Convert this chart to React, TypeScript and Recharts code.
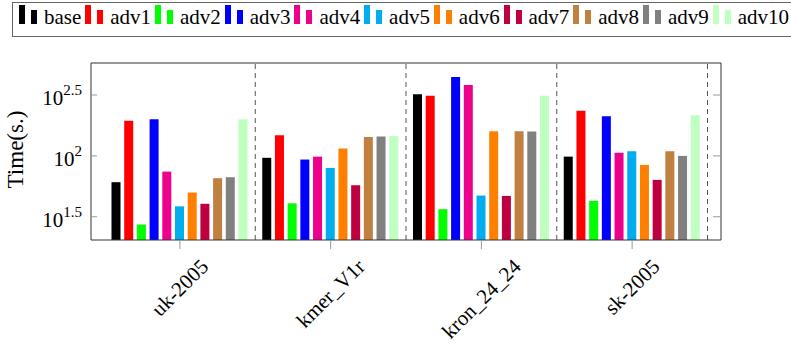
import React from "react";
import { BarChart, Bar, XAxis, YAxis, ReferenceLine } from "recharts";

const CATEGORIES = ["uk-2005", "kmer_V1r", "kron_24_24", "sk-2005"];
const SERIES = ["base", "adv1", "adv2", "adv3", "adv4", "adv5", "adv6", "adv7", "adv8", "adv9", "adv10"];
const COLORS = ["#000000", "#ff0000", "#00ff00", "#0000ff", "#ec008c", "#00adef", "#ff8000", "#bf0040", "#bf8040", "#808080", "#bfffbf"];

// Time(s.) per graph, one array per variant
const base = [60.8, 96.4, 320.6, 98.6];
const adv1 = [194.1, 147.9, 311.2, 234.4];
const adv2 = [27.3, 40.8, 36.5, 42.7];
const adv3 = [200, 93.3, 443.6, 211.8];
const adv4 = [74.3, 98.6, 382.8, 105.9];
const adv5 = [38.5, 79.6, 47.2, 109.1];
const adv6 = [50.0, 114.8, 159.6, 84.3];
const adv7 = [40.4, 57.4, 46.9, 63.5];
const adv8 = [65.6, 143.2, 159.6, 109.1];
const adv9 = [66.8, 144.2, 158.5, 100];
const adv10 = [200, 145.9, 312.6, 215.8];

const Y_TICK_EXPONENTS = ["1.5", "2", "2.5"];
const Y_DOMAIN_EXPONENTS = [1.309, 2.763];

const VALUES = [base, adv1, adv2, adv3, adv4, adv5, adv6, adv7, adv8, adv9, adv10];
const data = CATEGORIES.map((name, i) => {
  const row: Record<string, string | number> = { name };
  SERIES.forEach((s, j) => { row[s] = VALUES[j][i]; });
  return row;
});

const FONT = '"Liberation Serif", "Times New Roman", serif';
const yTicks = Y_TICK_EXPONENTS.map((e) => 10 ** Number(e));
const yDomain = Y_DOMAIN_EXPONENTS.map((e) => 10 ** e);

let ctx: CanvasRenderingContext2D | null = null;
function textWidth(s: string) {
  if (!ctx) ctx = document.createElement("canvas").getContext("2d");
  if (!ctx) return s.length * 10;
  ctx.font = `21px ${FONT}`;
  return ctx.measureText(s).width;
}

function XTick({ x, y, payload }: any) {
  const L = textWidth(payload.value);
  const cy = y + 7 + 0.354 * (L + 14);
  return (
    <text x={x} y={cy} textAnchor="middle" dominantBaseline="central" transform={`rotate(-45 ${x} ${cy})`}
      fontFamily={FONT} fontSize={21} fill="#000">
      {payload.value}
    </text>
  );
}

function expLabel(v: number) {
  return Y_TICK_EXPONENTS.find((e) => Math.abs(Number(e) - Math.log10(v)) < 1e-6) ?? "";
}

function YTickLeft({ x, y, payload }: any) {
  const ax = x + 8;
  return (
    <g>
      <line x1={ax} x2={ax + 6} y1={y} y2={y} stroke="#999" />
      <text x={x - 1} y={y + 10} textAnchor="end" fontFamily={FONT} fontSize={21} fill="#000">
        10<tspan dy={-10} fontSize={15}>{expLabel(payload.value)}</tspan>
      </text>
    </g>
  );
}

function YTickRight({ x, y }: any) {
  const ax = x - 8;
  return <line x1={ax - 8} x2={ax} y1={y} y2={y} stroke="#999" />;
}

function YLabel({ viewBox }: any) {
  const cy = viewBox.y + viewBox.height / 2 - 2;
  return (
    <text x={15} y={cy} textAnchor="middle" dominantBaseline="central" transform={`rotate(-90 15 ${cy})`}
      fontFamily={FONT} fontSize={23} fill="#000">
      Time(s.)
    </text>
  );
}

function Legend() {
  return (
    <div style={{
      position: "absolute", left: 12, top: 2, width: 783, height: 31, border: "1px solid #666",
      boxSizing: "content-box", display: "flex", alignItems: "baseline", gap: 3.9, paddingLeft: 6,
      paddingTop: 2, fontFamily: FONT, fontSize: 21, lineHeight: "24px", whiteSpace: "nowrap", background: "#fff",
    }}>
      {SERIES.map((s, i) => (
        <span key={s}>
          <svg width={18} height={19} style={{ marginRight: 7 }}>
            <rect x={0} y={0} width={6} height={19} fill={COLORS[i]} />
            <rect x={12} y={5} width={6} height={14} fill={COLORS[i]} />
          </svg>
          {s}
        </span>
      ))}
    </div>
  );
}

export default function App() {
  return (
    <div style={{ position: "absolute", left: 0, top: 0, width: 791, height: 345, background: "#fff", overflow: "hidden" }}>
      <BarChart width={791} height={345} data={data} margin={{ top: 54, right: 0, bottom: 0, left: 0 }} barSize={9} barGap={3.7}>
        <XAxis dataKey="name" height={105} interval={0} padding={{ left: 13.5, right: 13.5 }} tickSize={9} tickMargin={2}
          tick={<XTick />} axisLine={{ stroke: "#333" }} tickLine={{ stroke: "#999" }} />
        <XAxis xAxisId="top" dataKey="name" orientation="top" height={9} interval={0} padding={{ left: 13.5, right: 13.5 }}
          tickSize={9} tick={false} axisLine={{ stroke: "#333" }} tickLine={{ stroke: "#999" }} />
        <YAxis width={91} scale="log" domain={yDomain} allowDataOverflow ticks={yTicks} tickSize={6} tickMargin={2}
          tickLine={false} tick={<YTickLeft />} axisLine={{ stroke: "#333" }} label={<YLabel />} />
        <YAxis yAxisId="r" orientation="right" width={70} scale="log" domain={yDomain} allowDataOverflow ticks={yTicks}
          tickSize={6} tickMargin={2} tickLine={false} tick={<YTickRight />} axisLine={{ stroke: "#333" }} />
        {SERIES.map((s, i) => (
          <Bar key={s} dataKey={s} fill={COLORS[i]} isAnimationActive={false} />
        ))}
        {CATEGORIES.map((c) => (
          <ReferenceLine key={c} x={c} position="end" stroke="#555" strokeDasharray="5 4" />
        ))}
      </BarChart>
      <Legend />
    </div>
  );
}
